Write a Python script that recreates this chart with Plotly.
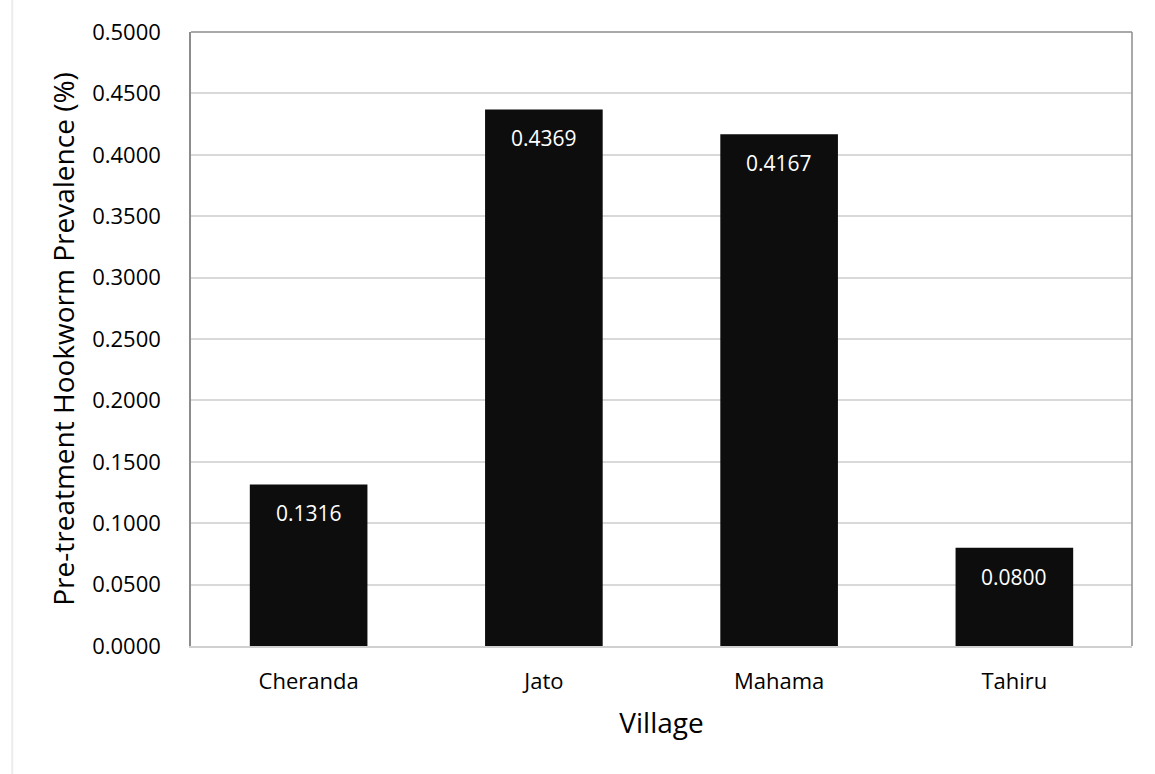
import plotly.graph_objects as go

villages = ["Cheranda", "Jato", "Mahama", "Tahiru"]
prevalence = [0.1316, 0.4369, 0.4167, 0.0800]
label_text = ["0.1316", "0.4369", "0.4167", "0.0800"]

FONT = "Open Sans"

fig = go.Figure()
fig.add_trace(go.Bar(
    x=villages, y=prevalence, width=0.5,
    marker=dict(color="#0d0d0d", line=dict(width=0)),
    hoverinfo="skip",
))

for v, p, t in zip(villages, prevalence, label_text):
    fig.add_annotation(x=v, y=p, text=t, showarrow=False, yanchor="top", yshift=-13,
                       font=dict(family=FONT, size=21, color="white"))

fig.update_layout(
    width=1155, height=774,
    margin=dict(l=191, r=23, t=32, b=128),
    paper_bgcolor="white", plot_bgcolor="white",
    showlegend=False,
    bargap=0.5,
    font=dict(family=FONT, color="black"),
    xaxis=dict(
        title=dict(text="Village", font=dict(size=28, family=FONT), standoff=19),
        tickfont=dict(size=22, family=FONT),
        showline=True, linecolor="#d0d0d0", linewidth=2, mirror=False,
        ticks="", showgrid=False,
        ticklabelstandoff=15,
    ),
    yaxis=dict(
        title=dict(text="Pre-treatment Hookworm Prevalence (%)", font=dict(size=28, family=FONT), standoff=9),
        tickfont=dict(size=22, family=FONT),
        range=[0, 0.5], dtick=0.05, tickformat=".4f",
        showgrid=True, gridcolor="#d9d9d9", gridwidth=1.5,
        showline=True, linecolor="#8c8c8c", linewidth=1.5, mirror=False,
        zeroline=False, ticks="",
        ticklabelstandoff=24,
    ),
    shapes=[
        dict(type="line", xref="paper", yref="paper", x0=0, x1=1, y0=1, y1=1,
             line=dict(color="#8c8c8c", width=1.5)),
        dict(type="line", xref="paper", yref="paper", x0=1, x1=1, y0=0, y1=1,
             line=dict(color="#8c8c8c", width=1.5)),
        dict(type="line", xref="paper", yref="paper", x0=-0.19, x1=-0.19, y0=-0.21, y1=1.06,
             line=dict(color="#ececec", width=2)),
    ],
)

fig.write_html("out.html")
